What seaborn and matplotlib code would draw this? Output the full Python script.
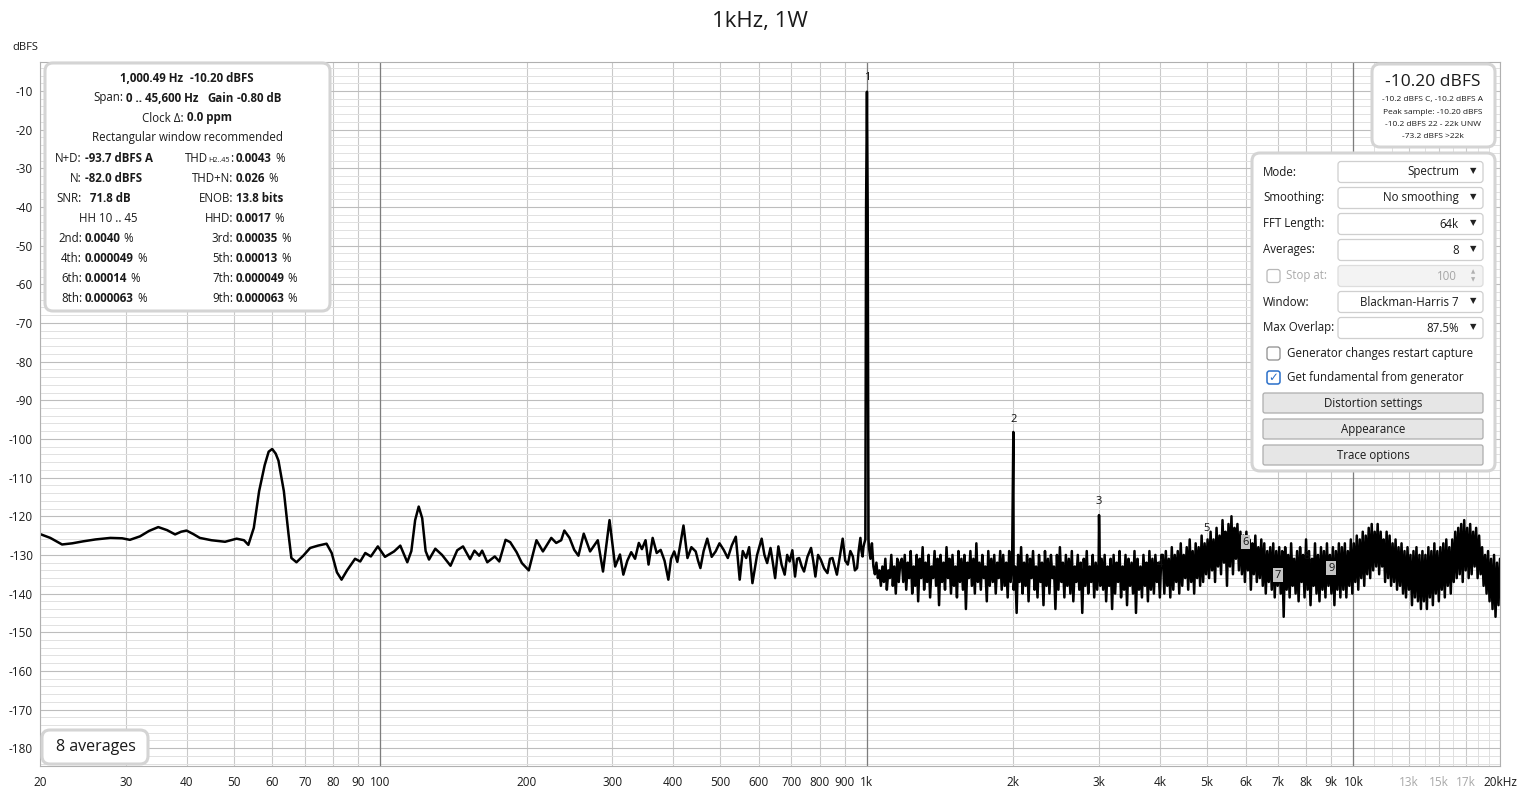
import matplotlib as mpl
mpl.use("Agg")
from matplotlib import pyplot as plt
from matplotlib.patches import FancyBboxPatch
from matplotlib.transforms import IdentityTransform
from matplotlib.ticker import LogLocator, MultipleLocator, NullFormatter
import numpy as np
import pandas as pd
import seaborn as sns

W, H = 1520, 791

# ---- trace ----
# low end: smooth part up to the fundamental
lf_freq = [20, 21, 22.2, 23.3, 24.5, 26, 27.9, 29.5, 30.6, 32.1,
           33.5, 35.0, 36.5, 37.9, 39, 40.0, 41.3, 42.6, 45.0, 48.0,
           50.7, 52.5, 53.6, 55, 56.4, 57.9, 59.0, 60.0, 61.0, 61.8,
           63.4, 64.8, 65.7, 67.3, 69.5, 71.8, 74.5, 77.6, 79.5, 81.5,
           83.3, 85.5, 88.8, 91, 93.2, 95.7, 98.9, 102.3, 106.8, 110,
           113.7, 115.9, 118, 120, 122, 124, 126, 129.8, 134, 139.5,
           144, 148, 153, 156.2, 159.8, 162, 166, 172, 175.7, 181,
           185, 190.7, 195.5, 202, 209.5, 216, 224.7, 230, 235.5, 239,
           245, 250.5, 255.5, 262, 270, 280, 287, 296, 304, 311,
           316, 322, 328, 334, 340, 345, 351, 356, 363, 370,
           377, 384, 391, 396, 402, 408, 413, 420, 428, 436,
           445, 450, 455, 462, 470, 480, 489, 498, 508, 518,
           528, 538, 548, 556, 565, 573, 582, 595, 608, 616,
           624, 634, 641, 648, 658, 668, 678, 686, 694, 703,
           712, 719, 726, 735, 743, 755, 768, 776, 784, 794,
           804, 817, 830, 840, 850, 859, 868, 880, 892, 903,
           914, 925, 936, 945, 955, 962, 970, 975, 980, 984,
           988, 993, 996.5, 1000.5, 1004, 1008]
lf_db = [-124.6, -125.6, -127.3, -127.0, -126.5, -126.0, -125.6, -125.7, -126.1, -125.2,
         -123.8, -122.8, -123.6, -124.7, -124.0, -123.7, -124.6, -125.6, -126.2, -126.6,
         -125.8, -126.2, -127.4, -123.0, -113.5, -106.8, -103.3, -102.6, -103.8, -105.6,
         -113.5, -124.5, -130.8, -131.9, -130.2, -128.2, -127.6, -127.1, -129.5, -134.5,
         -136.4, -134.0, -131.0, -131.7, -129.5, -130.4, -127.8, -130.5, -129.1, -127.6,
         -131.9, -129.0, -121.0, -117.5, -120.5, -129.0, -131.2, -128.4, -130.0, -132.8,
         -128.8, -127.8, -131.1, -128.9, -130.2, -128.9, -131.9, -130.4, -131.7, -126.1,
         -126.7, -129.3, -132.1, -134.0, -126.2, -129.1, -125.6, -126.9, -126.2, -123.7,
         -125.6, -128.7, -130.2, -124.5, -129.1, -126.2, -134.3, -121.0, -133.0, -129.9,
         -135.1, -131.5, -129.3, -131.0, -126.9, -128.5, -126.2, -132.5, -125.6, -129.5,
         -128.7, -131.5, -136.4, -131.0, -129.1, -131.8, -127.8, -122.4, -130.8, -128.0,
         -129.1, -131.5, -133.4, -129.0, -125.8, -130.5, -129.1, -127.0, -128.7, -130.8,
         -127.5, -125.3, -136.4, -129.0, -130.8, -128.0, -137.3, -130.0, -125.8, -130.0,
         -132.1, -128.2, -132.0, -136.0, -127.8, -132.5, -135.1, -130.0, -131.7, -128.8,
         -135.6, -131.0, -130.8, -133.0, -134.3, -130.5, -128.2, -131.5, -135.6, -130.0,
         -131.2, -133.5, -134.7, -131.0, -130.8, -133.0, -135.1, -130.5, -125.8, -131.5,
         -132.5, -129.0, -130.4, -134.0, -133.4, -129.0, -125.6, -129.0, -130.4, -128.0,
         -127.0, -126.0, -40.0, -10.2, -40.0, -126.0]

# high end: dense noise floor, FFT bins evenly spread in log frequency
hf_start, hf_stop = 1010, 20000
hf_db = [
    -128, -131, -127, -133, -135, -132, -136, -134, -138, -133,
    -137, -131, -139, -134, -136, -130, -138, -133, -140, -131,
    -137, -132,
    -131, -137, -130, -139, -132, -136, -129, -140, -133, -138,
    -130, -142, -131, -136, -128, -139, -132, -137, -130, -141,
    -133, -136, -129, -138, -131, -143, -130, -137, -132, -139,
    -128, -136, -131, -140, -130, -138, -133, -141, -129, -137,
    -131, -139, -130, -144, -132, -136, -129, -138, -131, -140,
    -127, -137, -132, -139, -130, -136, -133, -142, -129, -138,
    -131, -137, -130, -140, -132, -136, -129, -139,
    -130, -138, -132, -141, -129, -137, -131, -139, -133, -145,
    -130, -137, -128, -140, -132, -138, -130, -142, -131, -136,
    -129, -139, -133, -141, -130, -137, -132, -143, -129, -138,
    -131, -140, -130, -136, -133, -144, -130, -139, -128, -137,
    -132, -141, -130, -138, -131, -140, -129, -142, -133, -137,
    -130, -139, -132, -145, -131, -138, -129, -140, -133, -137,
    -130, -141, -132, -139, -131, -138,
    -131, -139, -130, -142, -133, -138, -131, -144, -130, -140,
    -132, -137, -129, -141, -133, -139, -130, -143, -131, -138,
    -132, -140, -129, -145, -131, -139, -133, -141, -130, -138,
    -132, -142, -129, -139, -131, -140, -130, -137, -132, -141,
    -130,
    -130, -140, -129, -138, -131, -141, -128, -139, -130, -137,
    -129, -140, -127, -138, -130, -136, -128, -139, -126, -137,
    -129, -140, -127, -136, -128, -138, -125, -137, -127, -135,
    -126,
    -136, -124, -134, -126, -137, -123, -133, -125, -135, -121,
    -132, -124, -138, -122, -133, -120, -135, -123, -131, -122,
    -134, -124,
    -135, -125, -137, -124, -134, -126, -139, -127, -135, -125,
    -137, -128, -136, -126, -138, -127, -140, -129, -137, -128,
    -139, -127, -141, -129, -138, -128, -140,
    -129, -146, -128, -139, -130, -141, -127, -138, -131, -140,
    -129, -142, -128, -137, -130, -141, -126, -139, -129, -143,
    -131, -138, -127, -140, -130, -142, -128, -139, -129, -141,
    -127, -138, -130, -140, -128, -143, -129, -139, -127, -141,
    -128, -139, -127, -141, -129, -138, -126, -140, -127, -137,
    -125, -139, -126, -136, -124, -138, -125, -135, -123, -136,
    -122, -134, -124, -133, -122,
    -135, -124, -133, -126, -137, -124, -136, -125, -138, -127,
    -137, -126, -139, -128, -138, -127, -140, -129, -141, -128,
    -139, -130, -143, -129, -141, -128, -142, -130, -144,
    -129, -142, -130, -144, -128, -141, -129, -143, -127, -140,
    -129, -142, -128, -139, -127, -141, -126, -138, -128, -140,
    -126, -137, -124, -136, -123, -135, -122, -137, -121, -134,
    -123, -136, -122, -135, -124, -133, -123, -136, -125, -135,
    -128, -138, -130, -140, -129, -142, -131, -144, -130, -146,
    -132, -143, -131,
]

# harmonic spikes that stand out of the floor
spike_freq = [2000, 3000]
spike_db = [-98.2, -119.7]

# harmonic markers 1..9
harm_freq = [1000, 2000, 3000, 4000, 5000, 6000, 7000, 8000, 9000]
harm_label_db = [-6.6, -94.9, -116.3, -132.4, -123.1, -126.7, -135.2, -130.3, -133.4]
harm_shaded = [False, False, False, False, False, True, True, False, True]

xtick_freq = [20, 30, 40, 50, 60, 70, 80, 90, 100, 200, 300, 400, 500, 600, 700,
              800, 900, 1000, 2000, 3000, 4000, 5000, 6000, 7000, 8000, 9000,
              10000, 13000, 15000, 17000, 20000]
xtick_labels = ["20", "30", "40", "50", "60", "70", "80", "90", "100", "200", "300",
                "400", "500", "600", "700", "800", "900", "1k", "2k", "3k", "4k",
                "5k", "6k", "7k", "8k", "9k", "10k", "13k", "15k", "17k", "20kHz"]
faint_labels = ["13k", "15k", "17k"]
ytick_db = list(range(-180, 0, 10))

# ---- overlay texts ----
level_lines = ["-10.2 dBFS C, -10.2 dBFS A", "Peak sample: -10.20 dBFS",
               "-10.2 dBFS 22 - 22k UNW", "-73.2 dBFS >22k"]
combo_rows = [("Mode:", "Spectrum"), ("Smoothing:", "No smoothing"),
              ("FFT Length:", "64k"), ("Averages:", "8"), ("Stop at:", "100"),
              ("Window:", "Blackman-Harris 7"), ("Max Overlap:", "87.5%")]
buttons = ["Distortion settings", "Appearance", "Trace options"]
dist_rows = [("N+D:", "-93.7 dBFS A", "THD", "0.0043 %"),
             ("N:", "-82.0 dBFS", "THD+N:", "0.026 %"),
             ("SNR:", " 71.8 dB", "ENOB:", "13.8 bits"),
             (None, "HH 10 .. 45", "HHD:", "0.0017 %"),
             ("2nd:", "0.0040 %", "3rd:", "0.00035 %"),
             ("4th:", "0.000049 %", "5th:", "0.00013 %"),
             ("6th:", "0.00014 %", "7th:", "0.000049 %"),
             ("8th:", "0.000063 %", "9th:", "0.000063 %")]

# ---- build the trace ----
hf_freq = np.geomspace(hf_start, hf_stop, len(hf_db))
trace = pd.DataFrame({
    "freq": np.concatenate([lf_freq, hf_freq, spike_freq]),
    "db": np.concatenate([lf_db, hf_db, spike_db]),
}).sort_values("freq")

sns.set_theme(style="white")
plt.rcParams["font.family"] = ["Open Sans", "DejaVu Sans"]

fig = plt.figure(figsize=(W / 100, H / 100), dpi=100)
ax = fig.add_axes([40 / W, 1 - 766 / H, 1460 / W, 704 / H])
ax.set_xscale("log")
sns.lineplot(data=trace, x="freq", y="db", ax=ax, color="black", lw=1.8,
             estimator=None, sort=True)
ax.set_xlim(20, 20000)
ax.set_ylim(-184.6, -2.5)
ax.set_xlabel("")
ax.set_ylabel("")

ax.set_xticks(xtick_freq)
ax.set_xticklabels(xtick_labels)
ax.xaxis.set_minor_locator(LogLocator(base=10, subs=np.arange(1, 10), numticks=20))
ax.xaxis.set_minor_formatter(NullFormatter())
for lab in ax.get_xticklabels():
    lab.set_color("#a8a8a8" if lab.get_text() in faint_labels else "#1a1a1a")
ax.tick_params(axis="x", which="both", length=0, pad=7, labelsize=8.5)

ax.set_yticks(ytick_db)
ax.set_yticklabels([str(v) for v in ytick_db])
ax.yaxis.set_minor_locator(MultipleLocator(2))
ax.tick_params(axis="y", which="both", direction="out", length=3, width=0.6,
               color="#9a9a9a", pad=2, labelsize=8.5, labelcolor="#1a1a1a")

ax.grid(which="both", axis="x", color="#c9c9c9", lw=0.8)
ax.grid(which="major", axis="y", color="#bdbdbd", lw=0.8)
ax.grid(which="minor", axis="y", color="#e1e1e1", lw=0.7)
for f in range(11000, 20000, 1000):
    ax.axvline(f, color="#e0e0e0", lw=0.7, zorder=0.5)
for f in (100, 1000, 10000):
    ax.axvline(f, color="#7d7d7d", lw=0.9, zorder=0.6)
ax.set_axisbelow(True)
for s in ax.spines.values():
    s.set_color("#b0b0b0")
    s.set_linewidth(0.8)

for i, (f, d, sh) in enumerate(zip(harm_freq, harm_label_db, harm_shaded)):
    kw = {}
    if sh:
        kw["bbox"] = dict(boxstyle="square,pad=0.15", fc="#c4c4c4", ec="none")
    ax.text(f, d, str(i + 1), ha="center", va="center", fontsize=8,
            color="#111111", zorder=5, **kw)

# ---- figure-pixel helpers for the overlays ----
ident = IdentityTransform()
renderer = fig.canvas.get_renderer()


def box(x0, y0, x1, y1, fc="white", ec="#d4d4d4", lw=2.2, r=8):
    fig.add_artist(FancyBboxPatch((x0, H - y1), x1 - x0, y1 - y0,
                                  boxstyle=f"round,pad=0,rounding_size={r}",
                                  transform=ident, fc=fc, ec=ec, lw=lw, zorder=2))


def txt(x, y, s, size=8.3, color="#1a1a1a", **kw):
    kw.setdefault("va", "center")
    return fig.text(x, H - y, s, transform=ident, fontsize=size, color=color,
                    zorder=5, **kw)


def runs(x, y, parts, ha="left", size=8.3):
    # parts: (text, weight) or (text, weight, size, dy) tuples, numbers are pixel gaps
    items = []
    for p in parts:
        if isinstance(p, (int, float)):
            items.append((None, p))
            continue
        s, w = p[0], p[1]
        sz = p[2] if len(p) > 2 else size
        dy = p[3] if len(p) > 3 else 0
        t = txt(0, y + dy, s, size=sz, fontweight=w, ha="left")
        items.append((t, t.get_window_extent(renderer).width))
    total = sum(w for _, w in items)
    x0 = {"left": x, "center": x - total / 2, "right": x - total}[ha]
    for t, w in items:
        if t is not None:
            t.set_x(x0)
        x0 += w


fig.text(0.5, 1 - 22 / H, "1kHz, 1W", ha="center", va="center", fontsize=16,
         color="#1a1a1a")
txt(25, 48, "dBFS", size=8, ha="center")

# distortion box
box(45, 63, 330, 311)
runs(187, 78, [("1,000.49 Hz", "bold"), 7, ("-10.20 dBFS", "bold")], ha="center")
runs(187, 98, [("Span:", "normal"), 3, ("0 .. 45,600 Hz", "bold"), 9,
               ("Gain", "bold"), 3, ("-0.80 dB", "bold")], ha="center")
runs(187, 118, [("Clock Δ:", "normal"), 3, ("0.0 ppm", "bold")], ha="center")
txt(187, 138, "Rectangular window recommended", ha="center")
for k, (l1, v1, l2, v2) in enumerate(dist_rows):
    y = 158 + 20 * k
    if l1 is None:
        txt(108, y, v1, ha="center")
    else:
        txt(82, y, l1, ha="right")
        num = v1.replace(" %", "").strip()
        parts = [(num, "bold")]
        if v1.endswith("%"):
            parts += [3, ("%", "normal")]
        runs(90 if v1.startswith(" ") else 85, y, parts)
    if l2 == "THD":
        runs(233, y, [("THD", "normal"), ("H2..45", "normal", 5.2, 2.5), (":", "normal")],
             ha="right")
    else:
        txt(233, y, l2, ha="right")
    num2 = v2.replace(" %", "")
    parts = [(num2, "bold")]
    if v2.endswith("%"):
        parts += [3, ("%", "normal")]
    runs(236, y, parts)

# level box
box(1372, 64, 1495, 147)
txt(1433, 82, "-10.20 dBFS", size=12.5, ha="center")
for k, s in enumerate(level_lines):
    txt(1433, 100 + 12 * k, s, size=6, ha="center")

# settings panel
box(1252, 153, 1495, 471)
for k, (lab, val) in enumerate(combo_rows):
    y = 172 + 26 * k
    if lab == "Stop at:":
        box(1267, y - 6.5, 1280, y + 6.5, ec="#b8b8b8", lw=0.9, r=2.5)
        txt(1286, y, lab, color="#ababab")
        box(1338, y - 10.5, 1483, y + 10.5, fc="#f3f3f3", ec="#dddddd", lw=0.9, r=3)
        txt(1457, y, val, color="#a5a5a5", ha="right")
        txt(1473, y - 4, "▲", size=4, color="#b0b0b0", ha="center")
        txt(1473, y + 4, "▼", size=4, color="#b0b0b0", ha="center")
    else:
        txt(1263, y, lab)
        box(1338, y - 10.5, 1483, y + 10.5, fc="white", ec="#cfcfcf", lw=0.9, r=3)
        txt(1459, y, val, ha="right")
        txt(1473, y, "▼", size=6, color="#222222", ha="center")

box(1267, 347, 1280, 360, ec="#8c8c8c", lw=0.9, r=2.5)
txt(1287, 353, "Generator changes restart capture")
box(1267, 371, 1280, 384, ec="#2a6fc9", lw=1.1, r=2.5)
txt(1273.5, 377.5, "✓", size=8.5, color="#2a6fc9", ha="center", fontweight="bold")
txt(1287, 377, "Get fundamental from generator")
for k, s in enumerate(buttons):
    y = 403 + 26 * k
    box(1263, y - 10, 1483, y + 10, fc="#e6e6e6", ec="#adadad", lw=0.9, r=2)
    txt(1373, y, s, ha="center")

# averages badge
box(42, 730, 148, 764)
txt(96, 747, "8 averages", size=11.5, ha="center")

fig.savefig("out.png", dpi=100)
